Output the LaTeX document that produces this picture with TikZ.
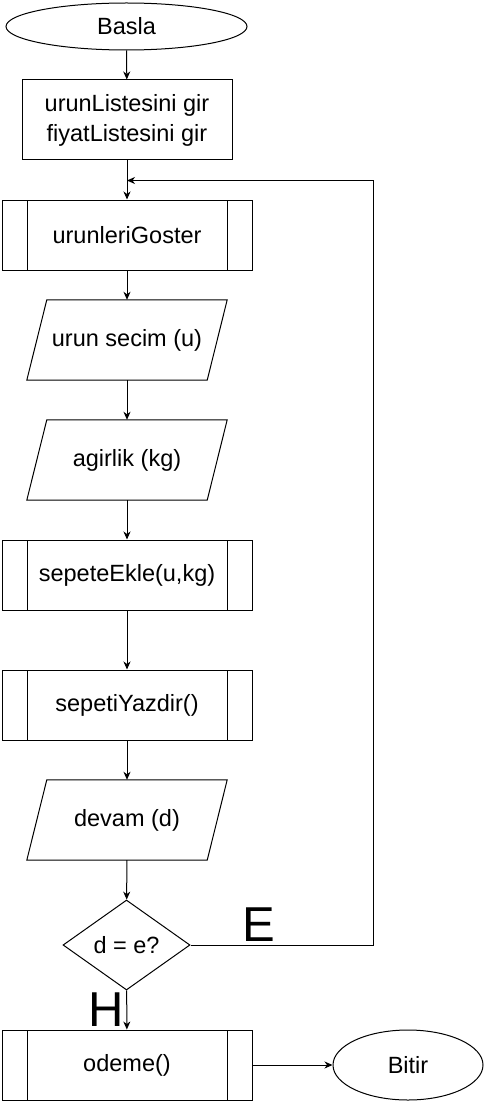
\documentclass[tikz,border=0pt]{standalone}
\usepackage{fontspec}
\setmainfont{Liberation Sans}
\usetikzlibrary{shapes.geometric,arrows.meta}
\begin{document}
\begin{tikzpicture}[x=1pt,y=-1pt,
  every node/.style={font=\fontsize{23.5}{30}\selectfont, inner sep=0pt, text=black},
  ln/.style={line width=1pt, draw=black},
  arr/.style={ln, -{Stealth[length=8pt,width=7pt,inset=2.5pt]}},
  term/.style={ellipse, ln, minimum width=#1pt, minimum height=47pt},
  procbox/.style={rectangle, ln, minimum width=210pt, minimum height=80pt, align=center},
  subproc/.style={rectangle, ln, minimum width=250pt, minimum height=70pt,
    path picture={
      \draw[line width=1pt] ([xshift=25pt]path picture bounding box.north west) -- ([xshift=25pt]path picture bounding box.south west);
      \draw[line width=1pt] ([xshift=-25pt]path picture bounding box.north east) -- ([xshift=-25pt]path picture bounding box.south east);
    }},
  iobox/.style={rectangle, minimum width=200pt, minimum height=80pt},
  decis/.style={diamond, ln, minimum width=127pt, minimum height=90pt, aspect=1.411},
  biglbl/.style={font=\fontsize{49}{55}\selectfont}
]
\useasboundingbox (0,0) rectangle (484,1102);

\node[term=241] (basla) at (126.5,26.5) {Basla};
\node[procbox] (giris) at (127,120) {urunListesini gir\\fiyatListesini gir};
\node[subproc] (goster) at (127,235) {urunleriGoster};
\node[iobox] (secim) at (127,340) {urun secim (u)};
\node[iobox] (agirlik) at (127,460) {agirlik (kg)};
\node[subproc] (ekle) at (127,575) {sepeteEkle(u,kg)};
\node[subproc] (yazdir) at (127,705) {sepetiYazdir()};
\node[iobox] (devam) at (127,820) {devam (d)};
\node[decis] (karar) at (126.5,945) {d = e?};
\node[subproc] (odeme) at (127,1065) {odeme()};
\node[ellipse, ln, minimum width=150pt, minimum height=70pt] (bitir) at (408,1065) {Bitir};

\foreach \n in {secim,agirlik,devam}{
  \draw[ln] ([xshift=20pt]\n.north west) -- (\n.north east)
    -- ([xshift=-20pt]\n.south east) -- (\n.south west) -- cycle;
}

\coordinate (join) at (127,180.5);
\coordinate (loopx) at (373.5,0);

\draw[arr] (basla) -- (giris);
\draw[arr] (giris) -- (goster);
\draw[arr] (goster) -- (secim);
\draw[arr] (secim) -- (agirlik);
\draw[arr] (agirlik) -- (ekle);
\draw[arr] (ekle) -- (yazdir);
\draw[arr] (yazdir) -- (devam);
\draw[arr] (devam) -- (karar);
\draw[arr] (karar) -- (odeme);
\draw[arr] (odeme) -- (bitir);
\draw[arr] (karar.east) -| (loopx |- join) -- (join);

\node[biglbl] (elbl) at (259,925) {E};
\node[biglbl] (hlbl) at (106,1010) {H};
\end{tikzpicture}
\end{document}
